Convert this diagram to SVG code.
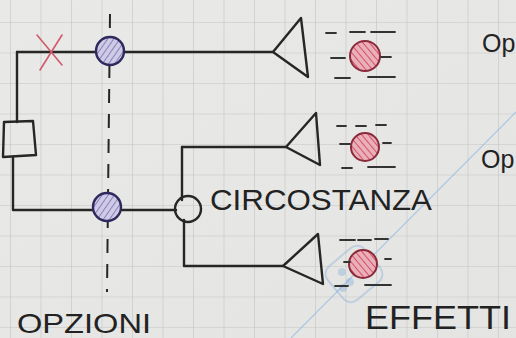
<svg xmlns="http://www.w3.org/2000/svg" width="516" height="338" viewBox="0 0 516 338">
<defs>
<pattern id="grid" x="10" y="22" width="30.5" height="30.5" patternUnits="userSpaceOnUse">
<path d="M0 0 H30.5 M0 0 V30.5" fill="none" stroke="#c4c4c2" stroke-width="1.2"/>
</pattern>
<pattern id="hatchR" width="5" height="5" patternUnits="userSpaceOnUse" patternTransform="rotate(-40)">
<rect width="5" height="5" fill="#eab0ba"/>
<line x1="0" y1="0" x2="0" y2="5" stroke="#d4506a" stroke-width="2"/>
</pattern>
<pattern id="hatchB" width="5" height="5" patternUnits="userSpaceOnUse" patternTransform="rotate(35)">
<rect width="5" height="5" fill="#cfcbe4"/>
<line x1="0" y1="0" x2="0" y2="5" stroke="#6a60b0" stroke-width="1.4"/>
</pattern>
<linearGradient id="bg" x1="0" y1="0" x2="1" y2="1">
<stop offset="0" stop-color="#e9e9e7"/>
<stop offset="1" stop-color="#e4e4e2"/>
</linearGradient>
</defs>
<style>
.ln{fill:none;stroke:#262626;stroke-width:2.4;stroke-linecap:round;stroke-linejoin:round}
.dash{fill:none;stroke:#262626;stroke-width:2;stroke-dasharray:14 11}
.sp{fill:none;stroke:#333;stroke-width:1.8;stroke-linecap:round}
.bc{stroke:#2e2a5e;stroke-width:2.4;fill:url(#hatchB)}
.rc{stroke:#8a2a3a;stroke-width:2;fill:url(#hatchR)}
.tx{font-family:"Liberation Sans",Arial,sans-serif;fill:#222}
</style>
<rect width="516" height="338" fill="url(#bg)"/>
<rect width="516" height="338" fill="url(#grid)"/>
<line x1="291" y1="338" x2="516" y2="112" stroke="#9cc0e4" stroke-width="1.2" opacity="0.8"/>
<g id="watermark" opacity="0.3">
<rect x="330" y="252" width="48" height="44" rx="10" fill="none" stroke="#6aa0dc" stroke-width="2" transform="rotate(-40 354 274)"/>
<circle cx="342" cy="272" r="4" fill="#6aa0dc"/>
<circle cx="350" cy="282" r="4" fill="#6aa0dc"/>
<circle cx="343" cy="288" r="4" fill="#6aa0dc"/>
</g>
<g id="connectors">
<line class="dash" x1="110" y1="14" x2="107" y2="292"/>
<path class="ln" d="M17 52 H273"/>
<path class="ln" d="M17 52 V122"/>
<path class="ln" d="M13 157 V210 H176"/>
<path class="ln" d="M182 147 H286"/>
<path class="ln" d="M182 147 V200"/>
<path class="ln" d="M184 220 V266 H283"/>
</g>
<g id="cross">
<path d="M37 35 L62 65 M62 35 L40 70" fill="none" stroke="#d25a6a" stroke-width="1.6" stroke-linecap="round"/>
</g>
<g id="box">
<path class="ln" d="M4 122 L33 121 L36 155 L3 157 Z" fill="#e8e8e6"/>
</g>
<g id="option1">
<circle class="bc" cx="110" cy="51" r="14"/>
</g>
<g id="option2">
<circle class="bc" cx="107" cy="207" r="14"/>
</g>
<g id="circumstance">
<circle class="ln" cx="188" cy="209" r="13" fill="#e8e8e6"/>
</g>
<g id="speaker1">
<path class="ln" d="M273 52 L301 18 L308 77 Z"/>
</g>
<g id="speaker2">
<path class="ln" d="M286 147 L316 113 L320 165 Z"/>
</g>
<g id="speaker3">
<path class="ln" d="M283 266 L318 234 L323 284 Z"/>
</g>
<g id="effect1">
<circle class="rc" cx="365" cy="56" r="15"/>
<path class="sp" d="M326 33 H336 M350 32 H365 M371 32 H395 M331 58 H345 M381 57 H391 M335 78 H350 M368 77 H395"/>
</g>
<g id="effect2">
<circle class="rc" cx="365" cy="147" r="14"/>
<path class="sp" d="M337 126 H346 M356 126 H366 M376 125 H386 M340 144 H350 M383 143 H391 M342 168 H352 M368 167 H395"/>
</g>
<g id="effect3">
<circle class="rc" cx="363" cy="264" r="14"/>
<path class="sp" d="M340 240 H355 M358 240 H371 M375 239 H388 M344 262 H350 M385 259 H391 M335 286 H348 M365 285 H391"/>
</g>
<text class="tx" x="17" y="333" font-size="28" textLength="134" lengthAdjust="spacingAndGlyphs">OPZIONI</text>
<text class="tx" x="210" y="210" font-size="30" textLength="222" lengthAdjust="spacingAndGlyphs">CIRCOSTANZA</text>
<text class="tx" x="365" y="329" font-size="33" textLength="146" lengthAdjust="spacingAndGlyphs">EFFETTI</text>
<text class="tx" x="482" y="52" font-size="25">Op</text>
<text class="tx" x="481" y="168" font-size="25">Op</text>
</svg>
